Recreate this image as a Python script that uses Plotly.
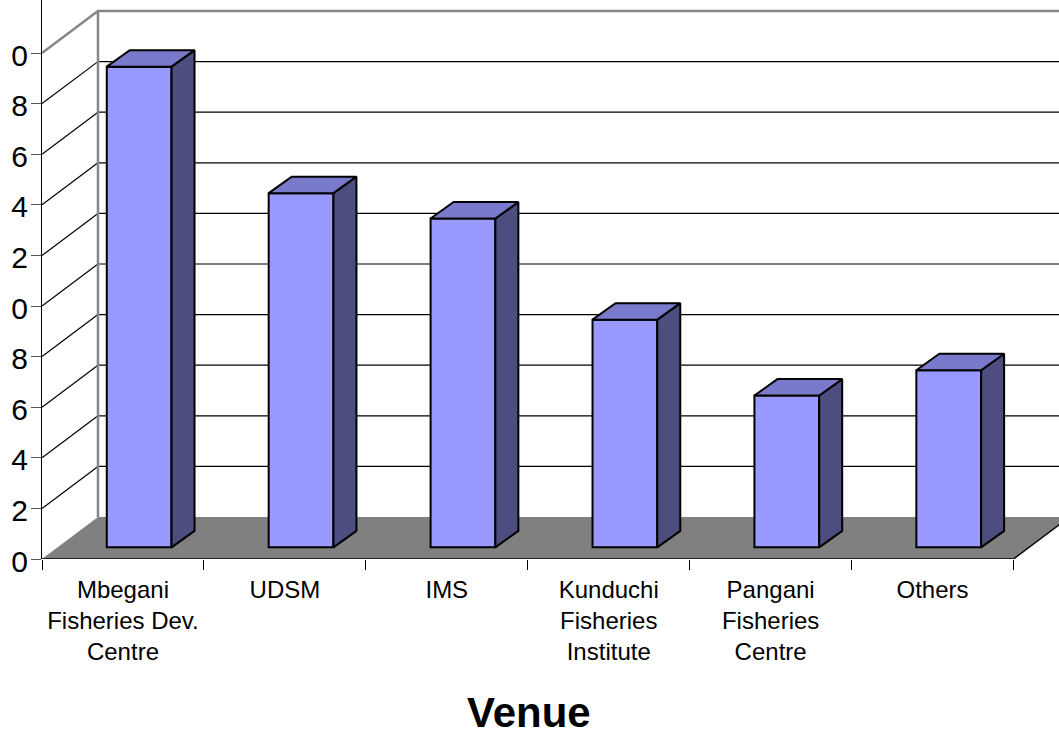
import plotly.graph_objects as go

# Venue data
venues = ["Mbegani<br>Fisheries Dev.<br>Centre", "UDSM", "IMS",
          "Kunduchi<br>Fisheries<br>Institute", "Pangani<br>Fisheries<br>Centre", "Others"]
counts = [19, 14, 13, 9, 6, 7]
value_ticks = [0, 2, 4, 6, 8, 10, 12, 14, 16, 18, 20]
# the gutter left of the axis only has room for the units digit
value_tick_text = ["0", "2", "4", "6", "8", "0", "2", "4", "6", "8", "0"]

# Pseudo-3D geometry, in axis units
WALL_DX, WALL_DY = 0.3457, 1.66
BAR_DX, BAR_DY = 0.142, 0.652
BAR_LIFT = 0.46
BAR_SHIFT, BAR_WIDTH = -0.1, 0.4

positions = list(range(len(venues)))
left, right = -0.5, len(venues) - 0.5
top_value = value_ticks[-1]

WALL_GRAY = "#868686"
shapes = [
    # floor
    dict(type="path", layer="below", line=dict(width=0), fillcolor="#808080",
         path=f"M {left} 0 L {left + WALL_DX} {WALL_DY} L {right + WALL_DX} {WALL_DY} L {right} 0 Z"),
]
# grid lines run along the side wall, then across the back wall
for v in value_ticks[1:-1]:
    shapes.append(dict(type="line", layer="below", line=dict(color="black", width=1.2),
                       x0=left, y0=v, x1=left + WALL_DX, y1=v + WALL_DY))
for v in value_ticks[1:-1]:
    shapes.append(dict(type="line", layer="below", line=dict(color="black", width=1.2),
                       x0=left + WALL_DX, y0=v + WALL_DY, x1=right + WALL_DX, y1=v + WALL_DY))
# wall outline
shapes.append(dict(type="path", layer="below", line=dict(color=WALL_GRAY, width=2.5),
                   path=f"M {left} {top_value} L {left + WALL_DX} {top_value + WALL_DY} "
                        f"L {right + WALL_DX} {top_value + WALL_DY}"))
shapes.append(dict(type="line", layer="below", line=dict(color=WALL_GRAY, width=2.5),
                   x0=left + WALL_DX, y0=WALL_DY, x1=left + WALL_DX, y1=top_value + WALL_DY))

# Side and top faces of each bar
side_x, side_y, top_x, top_y = [], [], [], []
for p, c in zip(positions, counts):
    x0 = p + BAR_SHIFT
    x1 = x0 + BAR_WIDTH
    y0 = BAR_LIFT
    y1 = BAR_LIFT + c
    side_x += [x1, x1 + BAR_DX, x1 + BAR_DX, x1, x1, None]
    side_y += [y0, y0 + BAR_DY, y1 + BAR_DY, y1, y0, None]
    top_x += [x0, x0 + BAR_DX, x1 + BAR_DX, x1, x0, None]
    top_y += [y1, y1 + BAR_DY, y1 + BAR_DY, y1, y1, None]

fig = go.Figure()
fig.add_trace(go.Bar(x=positions, y=counts, base=BAR_LIFT, offset=BAR_SHIFT, width=BAR_WIDTH,
                     marker=dict(color="#9999FF", line=dict(color="black", width=2)),
                     hoverinfo="skip"))
fig.add_trace(go.Scatter(x=side_x, y=side_y, mode="lines", fill="toself", fillcolor="#4D4D80",
                         line=dict(color="black", width=2), hoverinfo="skip"))
fig.add_trace(go.Scatter(x=top_x, y=top_y, mode="lines", fill="toself", fillcolor="#7A7ACC",
                         line=dict(color="black", width=2), hoverinfo="skip"))
# Front edge of the floor and its right-hand side
fig.add_trace(go.Scatter(x=[left, right, right + WALL_DX], y=[0, 0, WALL_DY], mode="lines",
                         line=dict(color="black", width=1.5), cliponaxis=False, hoverinfo="skip"))

fig.update_layout(
    width=1059, height=734,
    margin=dict(l=41.5, r=0, t=0, b=175, autoexpand=False),
    paper_bgcolor="white", plot_bgcolor="white",
    showlegend=False,
    font=dict(family="Liberation Sans", color="black"),
    shapes=shapes,
    annotations=[dict(text="<b>Venue</b>", x=2.5, xref="x", y=0, yref="paper",
                      yanchor="middle", xshift=1.5, yshift=-153, showarrow=False,
                      font=dict(size=42, family="Liberation Sans", color="black"))],
)
fig.update_xaxes(
    range=[left, 5.781], showgrid=False, zeroline=False, showline=False, automargin=False,
    tickmode="array", tickvals=positions, ticktext=venues,
    ticks="outside", ticklen=10, tickcolor="rgba(0,0,0,0)",
    tickfont=dict(size=24), tickangle=0, ticklabelstandoff=-1,
    minor=dict(tickmode="array", tickvals=[p - 0.5 for p in positions] + [right],
               ticks="outside", ticklen=10, tickwidth=1, tickcolor="black", showgrid=False),
)
fig.update_yaxes(
    range=[0, 22.095], showgrid=False, zeroline=False, automargin=False,
    showline=True, linecolor="black", linewidth=1,
    tickmode="array", tickvals=value_ticks, ticktext=value_tick_text,
    ticks="outside", ticklen=10, tickwidth=1, tickcolor="#555555",
    tickfont=dict(size=30), ticklabelstandoff=-3, ticklabelshift=2,
)

fig.write_html("out.html")
